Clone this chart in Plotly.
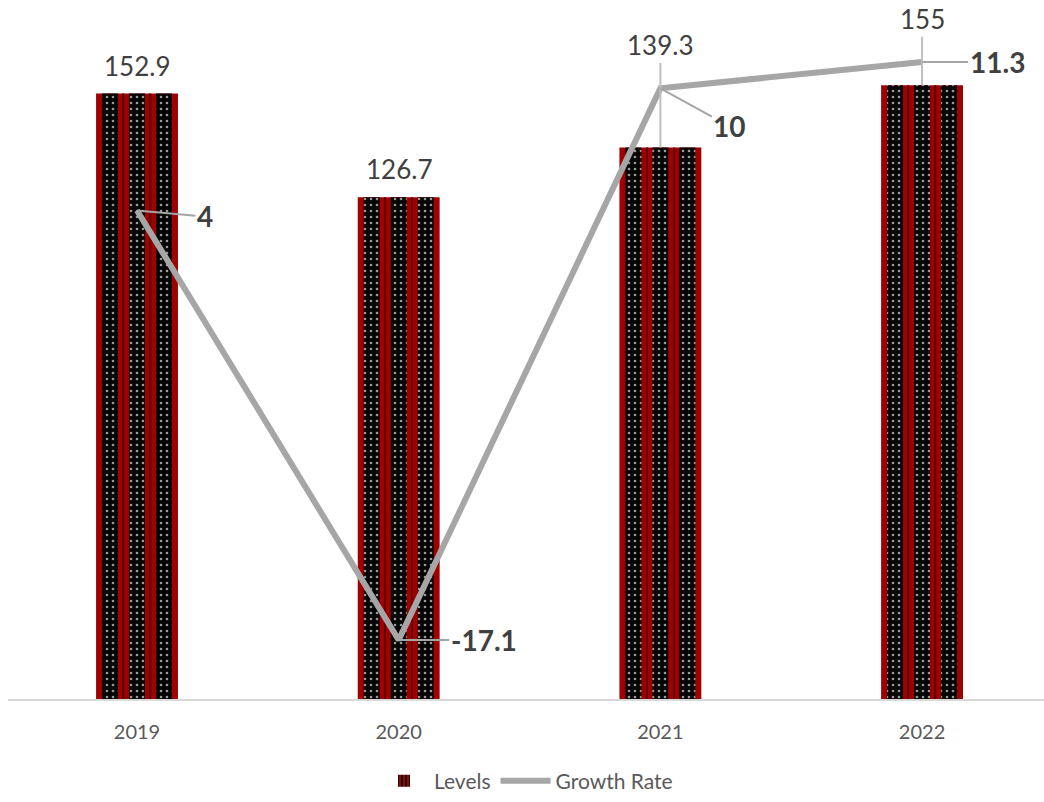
import plotly.graph_objects as go

years = ["2019", "2020", "2021", "2022"]
levels = [152.9, 126.7, 139.3, 155]
growth = [4, -17.1, 10, 11.3]

# label placement offsets (pixels): bar labels and growth labels
level_label_dy = [-28, -28, -102, -66]
level_label_arrow = [False, False, True, True]
growth_label_dx = [68, 85, 69, 75]
growth_label_dy = [6, 0, 38, 0]

FONT = "Lato"
x_idx = list(range(len(years)))

BAR_W = 0.313          # bar width in category units
PX = 1 / 261.7         # one pixel in category units
STRIPE_W = 16 * PX
STRIPE_CENTERS = [-27 * PX, 0.0, 27 * PX]
SEAM_CENTERS = [-13.5 * PX, 13.5 * PX]

fig = go.Figure()
# red body of each bar
fig.add_trace(go.Bar(
    x=x_idx, y=levels, name="Levels", width=BAR_W, showlegend=False,
    marker=dict(color="#a00000", line=dict(width=0)),
    yaxis="y", hoverinfo="skip",
))
# thin dark seams inside the red gaps
for c in SEAM_CENTERS:
    fig.add_trace(go.Bar(
        x=x_idx, y=levels, width=1.5 * PX, offset=c - 0.75 * PX, showlegend=False,
        marker=dict(color="#600000", line=dict(width=0)),
        yaxis="y", hoverinfo="skip",
    ))
# black woven stripes with light dashes
for c in STRIPE_CENTERS:
    fig.add_trace(go.Bar(
        x=x_idx, y=levels, width=STRIPE_W, offset=c - STRIPE_W / 2, showlegend=False,
        marker=dict(color="#050505", line=dict(width=0),
                    pattern=dict(shape=".", fgcolor="#9a9a9a", bgcolor="#050505",
                                 size=6, solidity=0.15, fillmode="replace")),
        yaxis="y", hoverinfo="skip",
    ))
# legend entry for the bars
fig.add_trace(go.Bar(
    x=[None], y=[None], name="Levels",
    marker=dict(color="#a00000", line=dict(width=0),
                pattern=dict(shape="|", fgcolor="#050505", bgcolor="#a00000",
                             size=5, solidity=0.5, fillmode="replace")),
    yaxis="y", hoverinfo="skip",
))
fig.add_trace(go.Scatter(
    x=x_idx, y=growth, name="Growth Rate", mode="lines",
    line=dict(color="#a6a6a6", width=6), yaxis="y2", hoverinfo="skip",
))

for i in x_idx:
    if level_label_arrow[i]:
        fig.add_annotation(x=i, y=levels[i], xref="x", yref="y", text=str(levels[i]),
                           showarrow=True, arrowhead=0, arrowwidth=2, arrowcolor="#bfbfbf",
                           ax=0, ay=level_label_dy[i],
                           font=dict(family=FONT, size=26, color="#404040"))
    else:
        fig.add_annotation(x=i, y=levels[i], xref="x", yref="y", text=str(levels[i]),
                           showarrow=False, yshift=-level_label_dy[i],
                           font=dict(family=FONT, size=26, color="#404040"))
    fig.add_annotation(x=i, y=growth[i], xref="x", yref="y2", text="<b>%s</b>" % growth[i],
                       showarrow=True, arrowhead=0, arrowwidth=2, arrowcolor="#a6a6a6",
                       ax=growth_label_dx[i], ay=growth_label_dy[i], standoff=0,
                       font=dict(family=FONT, size=28, color="#404040"))

fig.update_layout(
    width=1044, height=802,
    margin=dict(l=8, r=0, t=10, b=96),
    paper_bgcolor="white", plot_bgcolor="white",
    barmode="overlay",
    font=dict(family=FONT, color="#595959"),
    xaxis=dict(range=[-0.493, 3.466], tickmode="array", tickvals=x_idx, ticktext=years,
               showgrid=False, zeroline=False, showline=True, linecolor="#d9d9d9", linewidth=1.5,
               ticks="", tickfont=dict(family=FONT, size=20, color="#595959"),
               ticklabelstandoff=14),
    yaxis=dict(range=[0, 174], visible=False, showgrid=False, zeroline=False),
    yaxis2=dict(range=[-20, 13.85], overlaying="y", side="right", visible=False,
                showgrid=False, zeroline=False),
    showlegend=True,
    legend=dict(orientation="h", x=0.5, xanchor="center", y=-0.119, yanchor="middle",
                font=dict(family=FONT, size=21, color="#595959"), itemwidth=50),
)

fig.write_html("out.html")
